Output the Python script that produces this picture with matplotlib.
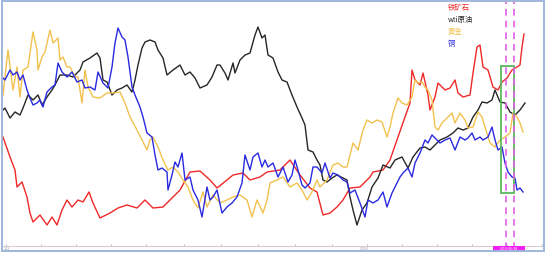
"""
Iron ore / WTI / gold / copper normalised price chart.
"""

import matplotlib
matplotlib.use("Agg")
import matplotlib.pyplot as plt
from matplotlib.patches import Rectangle

plt.rcParams['font.family'] = ['Noto Sans CJK SC', 'DejaVu Sans']

# x = trading-day index, y = relative level (no scale shown on the chart)
iron_x = [3, 10, 15, 17, 22, 27, 30, 33, 40, 47, 52, 57, 62, 67, 72, 78, 83, 89, 93, 100,
          110, 118, 127, 137, 145, 153, 163, 173, 180, 190, 200, 210, 217, 227, 233, 243, 250, 260, 267, 280,
          290, 300, 310, 317, 323, 330, 337, 343, 350, 360, 370, 373, 383, 390, 398, 405, 410, 412, 415, 420,
          423, 428, 430, 435, 438, 445, 450, 455, 458, 463, 470, 473, 477, 480, 483, 488, 493, 498, 502, 507,
          512, 517, 520, 522, 524]
iron_y = [113, 93, 80, 63, 68, 53, 37, 28, 35, 25, 33, 25, 40, 50, 43, 50, 48, 58, 47, 32,
          37, 42, 45, 42, 50, 42, 43, 53, 60, 78, 79, 70, 62, 70, 75, 77, 70, 73, 78, 80,
          90, 75, 62, 58, 35, 37, 43, 50, 62, 63, 73, 78, 80, 90, 113, 133, 147, 180, 170, 165,
          177, 155, 140, 153, 167, 160, 162, 170, 157, 153, 155, 177, 203, 205, 183, 180, 163, 160, 168, 172,
          180, 183, 185, 203, 216]

wti_x = [3, 5, 10, 15, 20, 23, 28, 33, 38, 42, 47, 52, 55, 60, 67, 73, 80, 83, 90, 97,
         100, 103, 107, 112, 117, 122, 127, 132, 135, 138, 142, 145, 150, 155, 158, 163, 167, 173, 180, 185,
         190, 195, 200, 207, 212, 217, 220, 225, 228, 233, 235, 240, 245, 250, 255, 258, 262, 265, 268, 273,
         278, 282, 287, 292, 297, 302, 305, 308, 313, 317, 320, 323, 327, 332, 337, 343, 347, 350, 353, 357,
         362, 367, 372, 378, 383, 390, 395, 402, 408, 413, 420, 425, 430, 435, 440, 447, 453, 458, 463, 468,
         473, 478, 482, 487, 492, 495, 500, 505, 510, 515, 520, 525]
wti_y = [140, 142, 132, 138, 135, 142, 155, 150, 155, 145, 153, 160, 165, 175, 175, 173, 180, 188, 192, 197,
         192, 170, 168, 155, 160, 162, 165, 158, 170, 185, 202, 208, 210, 208, 200, 192, 175, 180, 185, 175,
         178, 172, 162, 165, 173, 185, 185, 177, 170, 187, 177, 190, 195, 197, 215, 223, 212, 215, 195, 192,
         178, 170, 168, 155, 143, 132, 125, 100, 98, 90, 85, 70, 68, 72, 75, 72, 70, 53, 40, 25,
         40, 47, 63, 72, 85, 82, 90, 93, 82, 93, 102, 103, 100, 105, 110, 113, 117, 122, 120, 122,
         133, 140, 148, 147, 150, 160, 148, 147, 138, 135, 140, 147]

gold_x = [3, 8, 13, 17, 20, 23, 28, 30, 33, 37, 38, 42, 45, 50, 53, 58, 60, 63, 67, 70,
          75, 78, 82, 85, 88, 93, 100, 107, 113, 120, 125, 130, 137, 143, 147, 150, 153, 158, 163, 168,
          173, 178, 183, 188, 193, 198, 203, 207, 213, 220, 227, 233, 240, 247, 252, 257, 263, 267, 270, 277,
          283, 290, 297, 302, 307, 312, 317, 320, 327, 333, 338, 343, 347, 353, 358, 363, 367, 372, 377, 382,
          387, 390, 393, 398, 402, 407, 412, 415, 418, 422, 425, 428, 432, 435, 438, 442, 447, 452, 455, 460,
          465, 468, 473, 478, 482, 485, 490, 495, 500, 505, 510, 513, 517, 520, 523]
gold_y = [155, 200, 160, 183, 153, 180, 183, 197, 218, 200, 180, 193, 198, 220, 207, 212, 190, 193, 183, 183,
          173, 173, 147, 180, 163, 153, 152, 157, 157, 158, 147, 133, 120, 108, 100, 110, 113, 103, 90, 80,
          83, 78, 70, 63, 50, 42, 58, 43, 55, 47, 50, 53, 55, 50, 33, 50, 37, 50, 67, 70,
          73, 63, 67, 60, 50, 58, 70, 63, 70, 85, 87, 83, 83, 107, 100, 120, 130, 127, 130, 128,
          113, 123, 137, 152, 147, 145, 153, 170, 167, 168, 163, 160, 150, 123, 120, 127, 132, 137, 127, 137,
          130, 122, 123, 138, 133, 123, 107, 103, 110, 113, 117, 137, 133, 127, 118]

copper_x = [3, 5, 10, 13, 17, 20, 23, 27, 30, 33, 37, 40, 43, 47, 52, 55, 58, 62, 67, 72,
            77, 82, 85, 90, 95, 98, 103, 108, 112, 115, 118, 122, 125, 128, 132, 135, 140, 143, 147, 152,
            155, 158, 162, 167, 168, 172, 175, 178, 182, 185, 190, 193, 198, 202, 207, 210, 213, 217, 222, 227,
            232, 237, 242, 245, 250, 253, 258, 262, 265, 268, 273, 278, 283, 288, 292, 295, 298, 302, 305, 310,
            313, 317, 322, 325, 330, 333, 338, 343, 347, 350, 355, 360, 365, 368, 373, 378, 383, 387, 392, 395,
            400, 403, 408, 412, 415, 420, 425, 428, 432, 435, 440, 445, 450, 455, 460, 465, 468, 472, 475, 480,
            483, 488, 492, 495, 498, 502, 505, 508, 512, 515, 517, 520, 523]
copper_y = [172, 170, 180, 175, 178, 170, 175, 160, 152, 145, 147, 150, 143, 158, 163, 165, 187, 178, 173, 178,
            168, 170, 162, 163, 160, 178, 167, 162, 183, 207, 222, 213, 210, 193, 163, 155, 143, 133, 117, 113,
            95, 80, 82, 78, 60, 75, 88, 83, 97, 70, 73, 60, 50, 33, 63, 50, 53, 60, 37, 43,
            47, 53, 67, 95, 80, 93, 97, 83, 90, 83, 87, 73, 83, 68, 75, 90, 80, 65, 62, 67,
            83, 83, 77, 87, 72, 77, 75, 70, 68, 57, 60, 47, 33, 50, 47, 50, 58, 43, 57, 63,
            73, 77, 82, 73, 87, 97, 110, 107, 115, 112, 107, 110, 112, 100, 113, 110, 112, 117, 110, 113,
            110, 113, 123, 110, 100, 103, 87, 78, 73, 72, 60, 62, 58]

legend_labels = ["铁矿石", "wti原油", "黄金", "铜"]
colors = ["#f02828", "#262626", "#f2c14e", "#2a2ae0"]

tick_x = [6, 41, 76, 111, 146, 184, 221, 258, 295, 332, 367, 402, 437, 472, 507, 542]
year_label = "2016"
cursor_label = "2019-06-28"
marker_x = [506, 514]
box_x0, box_x1 = 501, 514
box_y0, box_y1 = 57, 184


def main():

    fig = plt.figure(figsize=(5.5, 2.54), dpi=100)

    ax = fig.add_axes([0, 0, 1, 1])

    ax.set_xlim(0, 550)
    ax.set_ylim(-4, 250)
    ax.axis("off")

    series = [
        (iron_x, iron_y),
        (wti_x, wti_y),
        (gold_x, gold_y),
        (copper_x, copper_y),
    ]

    for (xs, ys), color in zip(series, colors):
        ax.plot(xs, ys, color=color, linewidth=1.0, zorder=3)

    # highlighted window and cursor lines
    ax.add_patch(Rectangle(
        (box_x0, box_y0), box_x1 - box_x0, box_y1 - box_y0,
        fill=False, edgecolor="#5cb85c", linewidth=1.3, zorder=4
    ))

    for mx in marker_x:
        ax.plot([mx, mx], [1, 250], color="#e060e8",
                linewidth=1.2, dashes=(4, 3), zorder=5)

    # legend as plain coloured text
    for i, (label, color) in enumerate(zip(legend_labels, colors)):
        fig.text(448 / 550, 1 - (8 + 12 * i) / 254, label,
                 color=color, fontsize=5.3, ha="left", va="center")

    # bottom time axis
    ax.plot([3, 544], [4, 4], color="#d9cdd3", linewidth=0.8, zorder=2)
    for tx in tick_x:
        ax.plot([tx, tx], [4, 6], color="#c8c0c8", linewidth=0.6, zorder=2)

    fig.text(364 / 550, 1 - 249 / 254, year_label, color="#9a9a9a",
             fontsize=3, ha="center", va="center")
    fig.text(7 / 550, 1 - 248 / 254, "1/2", color="#a0a0a0",
             fontsize=3, ha="center", va="center")

    ax.add_patch(Rectangle((493, -2), 32, 6, facecolor="#f020f0",
                           edgecolor="none", zorder=6))
    ax.text(509, 1, cursor_label, color="white", fontsize=2.6,
            ha="center", va="center", zorder=7)

    # light blue frame
    frame = Rectangle((2 / 550, 3 / 254), 542 / 550, 250 / 254,
                      transform=fig.transFigure, fill=False,
                      edgecolor="#9fb6dc", linewidth=1.4)
    fig.patches.append(frame)

    fig.savefig("out.png", dpi=100, facecolor="white")


if __name__ == "__main__":
    main()
